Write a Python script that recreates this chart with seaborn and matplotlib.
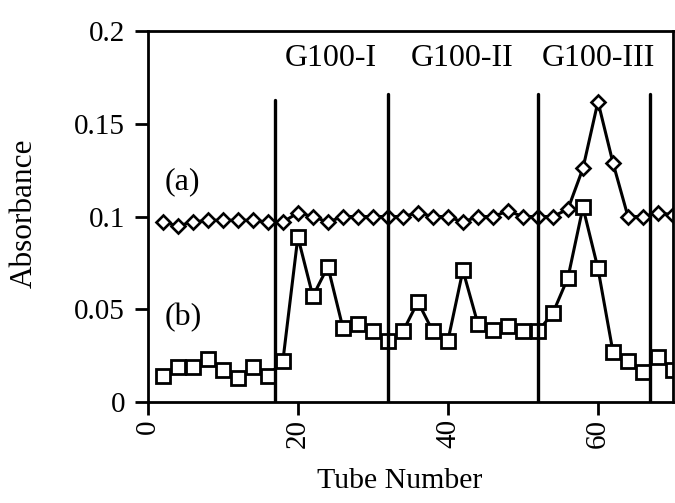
import numpy as np
import pandas as pd
import matplotlib
matplotlib.use('Agg')
import matplotlib.pyplot as plt
import seaborn as sns
from matplotlib.ticker import FormatStrFormatter

# 資料
tube = [2, 4, 6, 8, 10, 12, 14, 16, 18, 20, 22, 24, 26, 28, 30, 32, 34, 36,
        38, 40, 42, 44, 46, 48, 50, 52, 54, 56, 58, 60, 62, 64, 66, 68, 70]
abs_a = [0.097, 0.095, 0.097, 0.098, 0.098, 0.098, 0.098, 0.097, 0.097, 0.102,
         0.100, 0.097, 0.100, 0.100, 0.100, 0.100, 0.100, 0.102, 0.100, 0.100,
         0.097, 0.100, 0.100, 0.103, 0.100, 0.100, 0.100, 0.104, 0.126, 0.162,
         0.129, 0.100, 0.100, 0.102, 0.101]
abs_b = [0.014, 0.019, 0.019, 0.023, 0.017, 0.013, 0.019, 0.014, 0.022, 0.089,
         0.057, 0.073, 0.040, 0.042, 0.038, 0.033, 0.038, 0.054, 0.038, 0.033,
         0.071, 0.042, 0.039, 0.041, 0.038, 0.038, 0.048, 0.067, 0.105, 0.072,
         0.027, 0.022, 0.016, 0.024, 0.017]
cut_x = [17, 32, 52, 67]
cut_top = [0.163, 0.166, 0.166, 0.166]
frac_names = ['G100-I', 'G100-II', 'G100-III']
frac_x = [24.4, 41.9, 60.0]

df = pd.DataFrame({'tube': tube, 'a': abs_a, 'b': abs_b})

# 全部改成黑色
sns.set_style('ticks', rc={'axes.edgecolor': 'black', 'text.color': 'black',
                           'axes.labelcolor': 'black', 'xtick.color': 'black',
                           'ytick.color': 'black'})
plt.rcParams['font.family'] = ['Liberation Serif', 'DejaVu Serif']
plt.rcParams['axes.linewidth'] = 2

fig = plt.figure(figsize=(6.75, 5.03), dpi=100)
ax = fig.add_axes([0.219, 0.201, 0.778, 0.737])

sns.lineplot(data=df, x='tube', y='a', ax=ax, color='black', lw=2.2,
             marker='D', ms=7, mfc='white', mec='black', mew=1.9)
sns.lineplot(data=df, x='tube', y='b', ax=ax, color='black', lw=2.2,
             marker='s', ms=9.5, mfc='white', mec='black', mew=2)

for xv, top in zip(cut_x, cut_top):
    ax.plot([xv, xv], [0, top], color='black', lw=2.4)

for name, xv in zip(frac_names, frac_x):
    ax.text(xv, 0.181, name, ha='center', va='baseline', fontsize=23)

ax.text(4.6, 0.119, '(a)', ha='center', va='center', fontsize=23)
ax.text(4.7, 0.0455, '(b)', ha='center', va='center', fontsize=23)

ax.set_xlim(0, 70)
ax.set_ylim(0, 0.2)
ax.set_xticks([0, 20, 40, 60])
ax.set_yticks([0, 0.05, 0.1, 0.15, 0.2])
ax.yaxis.set_major_formatter(FormatStrFormatter('%g'))
ax.tick_params(axis='both', direction='out', length=9.5, width=2, labelsize=21)
ax.tick_params(axis='y', pad=7)
ax.tick_params(axis='x', labelrotation=90, pad=3)
for s in ax.spines.values():
    s.set_visible(True)

ax.set_xlabel('Tube Number', fontsize=21.5)
ax.set_ylabel('Absorbance', fontsize=22.5)
ax.xaxis.set_label_coords(0.48, -0.178)
ax.yaxis.set_label_coords(-0.208, 0.51)

fig.savefig('out.png', dpi=100)
